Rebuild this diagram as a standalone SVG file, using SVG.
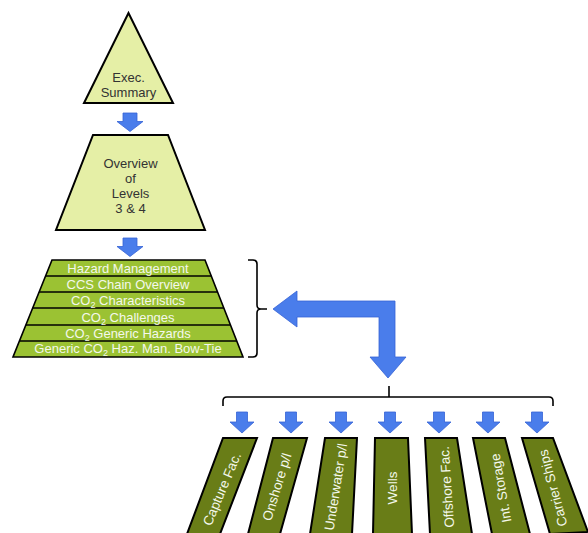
<svg xmlns="http://www.w3.org/2000/svg" xmlns:xlink="http://www.w3.org/1999/xlink" width="588" height="533" viewBox="0 0 588 533">
<style>
  .lt { fill: #E5EFA6; stroke: #000; stroke-width: 2; stroke-linejoin: miter; }
  .md { fill: #9BC233; stroke: #000; stroke-width: 1.6; }
  .dk { fill: #697D17; stroke: #000; stroke-width: 2; }
  .t1 { font-family: "Liberation Sans", Arial, sans-serif; font-size: 13px; fill: #333; text-anchor: middle; }
  .t2 { font-family: "Liberation Sans", Arial, sans-serif; font-size: 13px; fill: #F4F8EC; text-anchor: middle; }
  .t3 { font-family: "Liberation Sans", Arial, sans-serif; font-size: 13.5px; fill: #F4F8EC; text-anchor: middle; dominant-baseline: central; }
  .arr { fill: #4A7DEB; stroke: #3562D6; stroke-width: 0.8; }
  .br { fill: none; stroke: #000; stroke-width: 1.6; }
</style>
<defs>
  <path id="bigArrow" d="M-7,0 H7 V8.5 H13 L0,18.5 L-13,8.5 H-7 Z"/>
  <path id="smallArrow" d="M-5.5,0 H5.5 V10 H12 L0,21 L-12,10 H-5.5 Z"/>
</defs>

<g id="exec-summary">
  <polygon class="lt" points="128.5,13 84,103 173,103"/>
  <text class="t1" x="128.5" y="82">Exec.<tspan x="128.5" dy="15">Summary</tspan></text>
</g>

<g id="overview">
  <polygon class="lt" points="93,135 168,135 205,230 56,230"/>
  <text class="t1" x="130.5" y="168">Overview</text>
  <text class="t1" x="130.5" y="183">of</text>
  <text class="t1" x="130.5" y="198">Levels</text>
  <text class="t1" x="130.5" y="213">3 &amp; 4</text>
</g>

<g id="level-2">
  <polygon class="md" points="52,260 205,260 243,357 13,357"/>
  <line class="br" x1="45.6" y1="276" x2="211.3" y2="276"/>
  <line class="br" x1="39.1" y1="292" x2="217.5" y2="292"/>
  <line class="br" x1="32.7" y1="308" x2="223.8" y2="308"/>
  <line class="br" x1="25.9" y1="325" x2="230.5" y2="325"/>
  <line class="br" x1="19.4" y1="341" x2="236.8" y2="341"/>
  <text class="t2" x="128" y="273">Hazard Management</text>
  <text class="t2" x="128" y="289">CCS Chain Overview</text>
  <text class="t2" x="128" y="305">CO<tspan font-size="9" dy="3">2</tspan><tspan dy="-3"> Characteristics</tspan></text>
  <text class="t2" x="128" y="321.5">CO<tspan font-size="9" dy="3">2</tspan><tspan dy="-3"> Challenges</tspan></text>
  <text class="t2" x="128" y="337.5">CO<tspan font-size="9" dy="3">2</tspan><tspan dy="-3"> Generic Hazards</tspan></text>
  <text class="t2" x="128" y="353">Generic CO<tspan font-size="9" dy="3">2</tspan><tspan dy="-3"> Haz. Man. Bow-Tie</tspan></text>
</g>

<g id="capture-fac">
  <polygon class="dk" points="223,438 257,438 220,534 187,534"/>
  <text class="t3" transform="translate(222,489) rotate(-67)">Capture Fac.</text>
</g>
<g id="onshore-pl">
  <polygon class="dk" points="273,438 307,438 280,534 248,534"/>
  <text class="t3" transform="translate(277,487) rotate(-73)">Onshore p/l</text>
</g>
<g id="underwater-pl">
  <polygon class="dk" points="325,438 357,438 352,534 310,534"/>
  <text class="t3" transform="translate(336,487) rotate(-81)">Underwater p/l</text>
</g>
<g id="wells">
  <polygon class="dk" points="375,438 408,438 412,534 373,534"/>
  <text class="t3" transform="translate(392,488) rotate(-90)">Wells</text>
</g>
<g id="offshore-fac">
  <polygon class="dk" points="425,438 457,438 472,534 430,534"/>
  <text class="t3" transform="translate(447,487) rotate(-94)">Offshore Fac.</text>
</g>
<g id="int-storage">
  <polygon class="dk" points="473,438 505,438 530,534 492,534"/>
  <text class="t3" transform="translate(501,488) rotate(-100)">Int. Storage</text>
</g>
<g id="carrier-ships">
  <polygon class="dk" points="522,438 553,438 588,532 550,534"/>
  <text class="t3" transform="translate(553,488) rotate(-105)">Carrier Ships</text>
</g>

<g id="connectors">
  <use xlink:href="#bigArrow" href="#bigArrow" class="arr" transform="translate(130,113)"/>
  <use xlink:href="#bigArrow" href="#bigArrow" class="arr" transform="translate(130,238)"/>
  <path class="br" d="M248,260 H253 Q257,260 257,264 V305 Q257,309 261,309 H267 M261,309 Q257,309 257,313 V353 Q257,357 253,357 H248"/>
  <path class="arr" d="M273,309 L297,291 V301 H395 V357 H406 L388,378 L370,357 H379 V317 H297 V327 Z"/>
  <path class="br" d="M223,406 V401 Q223,397 227,397 H549 Q553,397 553,401 V406 M389,397 V386"/>
  <use xlink:href="#smallArrow" href="#smallArrow" class="arr" transform="translate(242,412)"/>
  <use xlink:href="#smallArrow" href="#smallArrow" class="arr" transform="translate(291,412)"/>
  <use xlink:href="#smallArrow" href="#smallArrow" class="arr" transform="translate(341,412)"/>
  <use xlink:href="#smallArrow" href="#smallArrow" class="arr" transform="translate(390,412)"/>
  <use xlink:href="#smallArrow" href="#smallArrow" class="arr" transform="translate(439,412)"/>
  <use xlink:href="#smallArrow" href="#smallArrow" class="arr" transform="translate(488,412)"/>
  <use xlink:href="#smallArrow" href="#smallArrow" class="arr" transform="translate(537,412)"/>
</g>
</svg>
